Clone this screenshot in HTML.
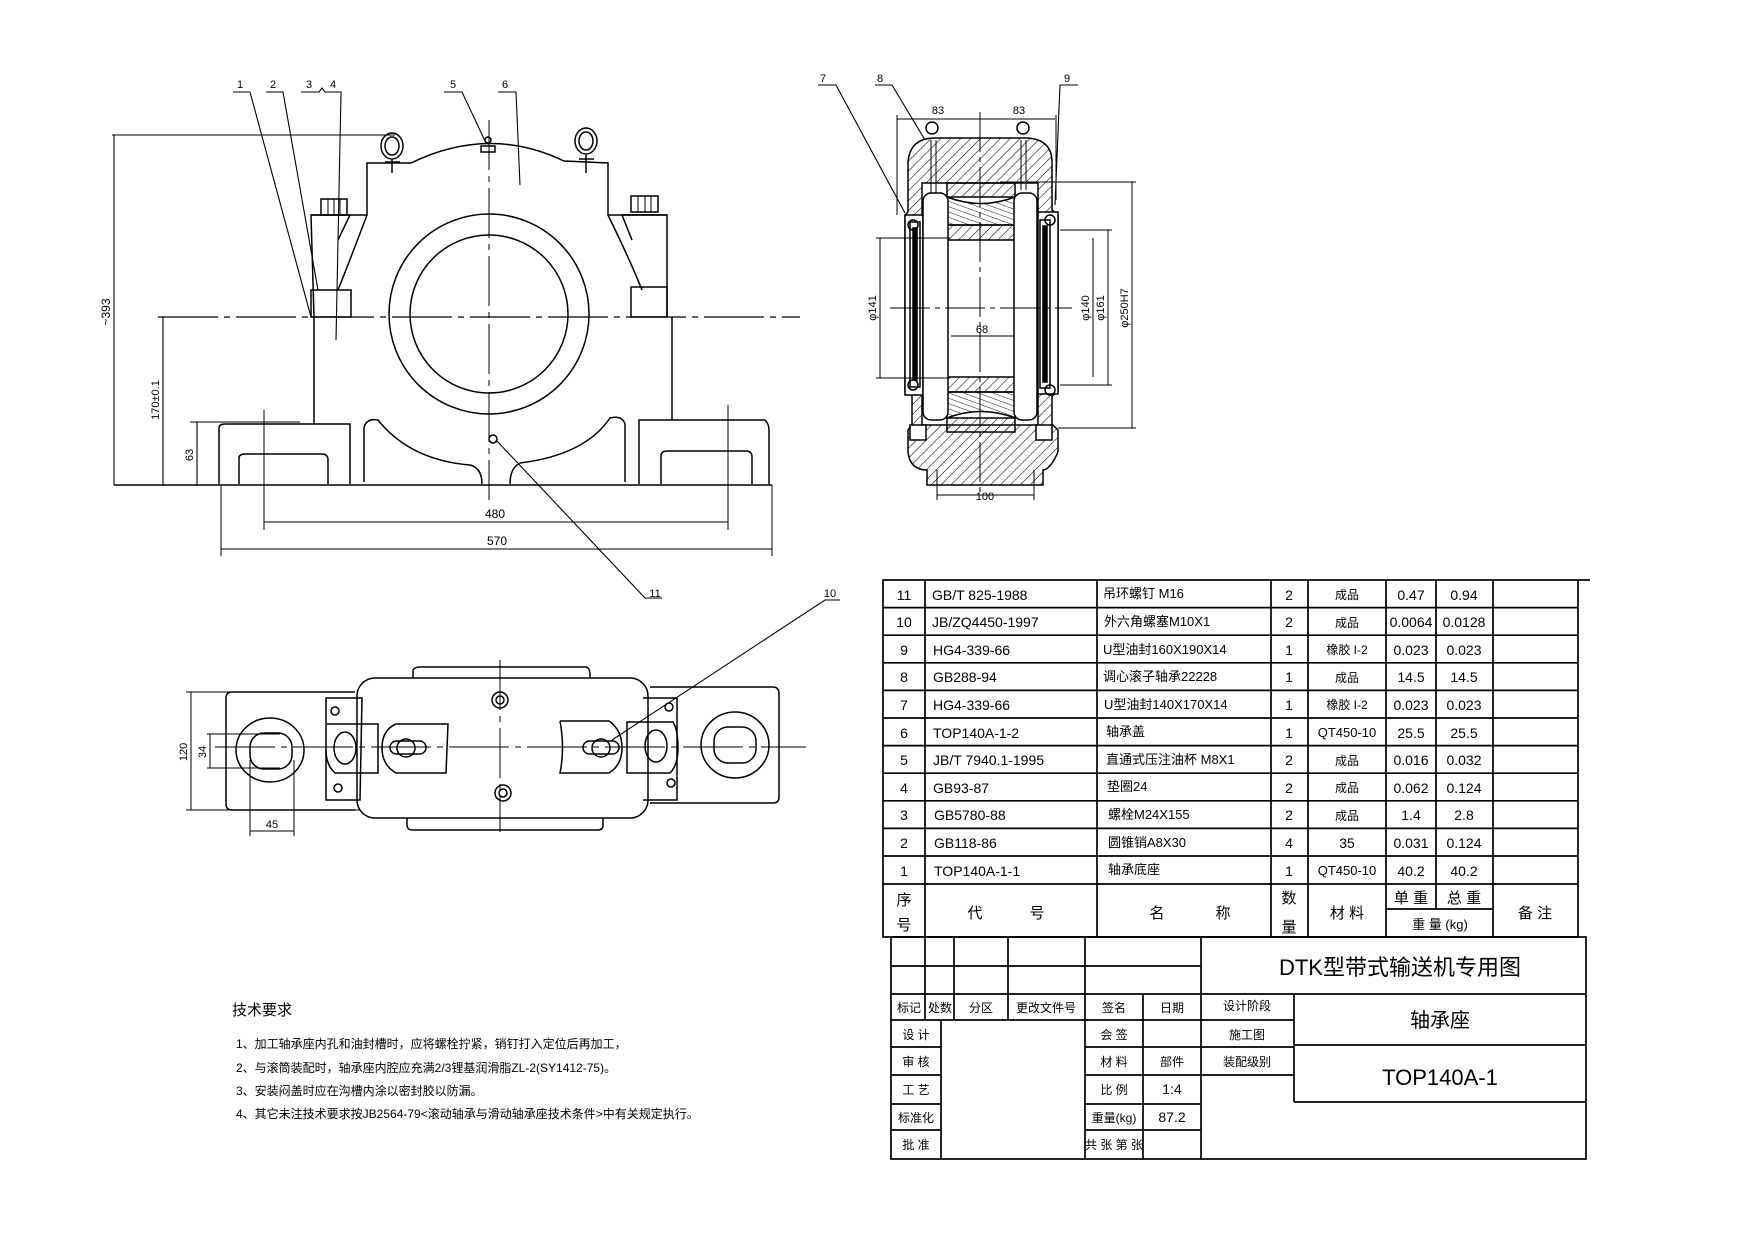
<!DOCTYPE html>
<html><head><meta charset="utf-8"><style>
html,body{margin:0;padding:0;background:#fff}
svg{display:block}
text{font-family:"Liberation Sans","Noto Sans CJK SC",sans-serif;fill:#000}
</style></head><body>
<svg width="1744" height="1248" viewBox="0 0 1744 1248" xmlns="http://www.w3.org/2000/svg">
<defs>
<pattern id="h" width="7" height="7" patternUnits="userSpaceOnUse" patternTransform="rotate(45)"><line x1="0" y1="0" x2="0" y2="7" stroke="#000" stroke-width="1.1"/></pattern>
<pattern id="r" width="5" height="5" patternUnits="userSpaceOnUse" patternTransform="rotate(-70)"><line x1="0" y1="0" x2="0" y2="5" stroke="#000" stroke-width="0.9"/></pattern>
</defs>
<g fill="none" stroke="#000" stroke-width="1.5">
<line x1="158" y1="317" x2="800" y2="317" stroke-width="1.2" stroke-dasharray="60,6,6,6"/>
<line x1="489" y1="120" x2="489" y2="500" stroke-width="1" stroke-dasharray="50,6,6,6"/>
<path d="M314,317 L311,215 L367,215 L367,163 L411,163 Q489,125 564,161 L608,163 L608,215 L667,215 L667,317"/>
<path d="M367,215 Q350,260 338,290 M608,215 Q630,260 642,290"/>
<path d="M311,215 L350,215 L338,240 M667,215 L622,215 L632,240"/>
<rect x="321" y="199" width="26" height="16"/>
<line x1="328" y1="199" x2="328" y2="215" stroke-width="1"/><line x1="334" y1="199" x2="334" y2="215" stroke-width="1"/><line x1="340" y1="199" x2="340" y2="215" stroke-width="1"/>
<rect x="631" y="196" width="27" height="16"/>
<line x1="638" y1="196" x2="638" y2="212" stroke-width="1"/><line x1="645" y1="196" x2="645" y2="212" stroke-width="1"/><line x1="651" y1="196" x2="651" y2="212" stroke-width="1"/>
<rect x="311" y="290" width="40" height="27"/>
<rect x="631" y="287" width="36" height="30"/>
<ellipse cx="392" cy="146" rx="11" ry="13"/><ellipse cx="392" cy="146" rx="7" ry="9"/>
<line x1="385" y1="162" x2="400" y2="162"/><line x1="392" y1="160" x2="392" y2="173"/>
<ellipse cx="586" cy="141" rx="11" ry="13"/><ellipse cx="586" cy="141" rx="7" ry="9"/>
<line x1="579" y1="159" x2="594" y2="159"/><line x1="586" y1="155" x2="586" y2="173"/>
<rect x="481" y="146" width="14" height="6"/><circle cx="488" cy="140" r="3"/>
<circle cx="489" cy="314" r="100"/>
<circle cx="489" cy="314" r="79"/>
<line x1="314" y1="317" x2="314" y2="424"/><line x1="672" y1="317" x2="672" y2="420"/>
<path d="M219,484 L219,428 Q219,424 225,424 L350,424 L350,484"/>
<path d="M239,484 L239,458 Q239,454 245,454 L322,454 Q328,454 328,460 L328,484"/>
<path d="M639,484 L639,420 L765,420 Q769,424 769,430 L769,484"/>
<path d="M661,484 L661,456 Q661,451 667,451 L746,451 Q752,451 752,457 L752,484"/>
<path d="M364,482 L364,428 Q366,418 378,420 Q410,460 470,465 Q482,468 482,484"/>
<path d="M625,482 L625,424 Q622,415 610,418 Q585,455 520,463 Q510,468 510,484"/>
<line x1="114" y1="485" x2="772" y2="485"/>
<line x1="190" y1="422" x2="300" y2="422" stroke-width="1"/>
<line x1="672" y1="420" x2="760" y2="420" stroke-width="1"/>
<circle cx="493" cy="439" r="4"/>
<line x1="264" y1="410" x2="264" y2="530" stroke-width="1"/><line x1="728" y1="405" x2="728" y2="530" stroke-width="1"/>
<line x1="114" y1="135" x2="114" y2="485" stroke-width="1.1"/><line x1="112" y1="135" x2="395" y2="135" stroke-width="1"/>
<line x1="163" y1="317" x2="163" y2="485" stroke-width="1.1"/>
<line x1="197" y1="422" x2="197" y2="485" stroke-width="1.1"/>
<line x1="221" y1="485" x2="221" y2="556" stroke-width="1"/><line x1="772" y1="485" x2="772" y2="556" stroke-width="1"/>
<line x1="264" y1="522" x2="728" y2="522" stroke-width="1.1"/>
<line x1="221" y1="549" x2="772" y2="549" stroke-width="1.1"/>
<g stroke-width="1.1">
<polyline points="233,92 250,92 311,317"/>
<polyline points="266,92 283,92 318,290"/>
<polyline points="301,92 319,92 322,88 325,92 341,92 336,340"/>
<polyline points="444,92 462,92 486,143"/>
<polyline points="498,92 516,92 520,185"/>
<polyline points="496,440 645,598 662,598"/>
<polyline points="612,740 825,600 840,600"/>
</g>
<path fill="url(#h)" fill-rule="evenodd" d="M908,212 L908,162 Q910,138 935,138 L1028,138 Q1052,140 1052,162 L1052,210 L1058,215 L1058,392 L1052,396 L1052,424 L1058,430 L1058,452 Q1050,470 1043,470 L1043,485 L927,485 L927,470 Q910,470 908,452 L908,430 L912,424 L912,396 L905,392 L905,215 Z M922,183 L1038,183 L1038,425 L922,425 Z"/>
<rect x="905" y="215" width="18" height="180" fill="#fff"/>
<rect x="1038" y="212" width="20" height="182" fill="#fff"/>
<rect x="910" y="222" width="10" height="165"/><rect x="913" y="228" width="4" height="152" fill="#000"/>
<rect x="1040" y="220" width="10" height="168"/><rect x="1043" y="226" width="4" height="156" fill="#000"/>
<circle cx="913" cy="225" r="5"/><circle cx="913" cy="385" r="5"/>
<circle cx="1050" cy="220" r="5"/><circle cx="1050" cy="390" r="5"/>
<rect x="947" y="183" width="68" height="14" fill="url(#h)"/>
<path d="M947,197 Q981,210 1015,197 L1015,225 L947,225 Z" fill="url(#r)"/>
<rect x="947" y="225" width="68" height="15" fill="url(#h)"/>
<rect x="947" y="377" width="68" height="15" fill="url(#h)"/>
<path d="M947,392 L1015,392 L1015,418 Q981,405 947,418 Z" fill="url(#r)"/>
<rect x="947" y="418" width="68" height="14" fill="url(#h)"/>
<rect x="923" y="193" width="25" height="227" rx="8" fill="#fff"/>
<rect x="1014" y="193" width="23" height="227" rx="8" fill="#fff"/>
<line x1="931" y1="140" x2="931" y2="193" stroke-width="1"/><line x1="936" y1="140" x2="936" y2="193" stroke-width="1"/>
<line x1="1021" y1="140" x2="1021" y2="190" stroke-width="1"/><line x1="1026" y1="140" x2="1026" y2="190" stroke-width="1"/>
<circle cx="932" cy="128" r="6" fill="#fff"/><circle cx="1023" cy="128" r="6" fill="#fff"/>
<rect x="910" y="425" width="16" height="15" fill="#fff"/><rect x="1036" y="425" width="16" height="15" fill="#fff"/>
<line x1="980" y1="112" x2="980" y2="495" stroke-width="1" stroke-dasharray="40,5,5,5"/>
<line x1="890" y1="308" x2="1072" y2="308" stroke-width="1" stroke-dasharray="40,5,5,5"/>
<line x1="897" y1="119" x2="1055" y2="119" stroke-width="1"/>
<line x1="897" y1="115" x2="897" y2="215" stroke-width="1"/><line x1="1056" y1="115" x2="1056" y2="200" stroke-width="1"/>
<line x1="937" y1="495" x2="1034" y2="495" stroke-width="1"/>
<line x1="937" y1="470" x2="937" y2="500" stroke-width="1"/><line x1="1034" y1="470" x2="1034" y2="500" stroke-width="1"/>
<line x1="951" y1="336" x2="1013" y2="336" stroke-width="1"/>
<line x1="880" y1="238" x2="880" y2="378" stroke-width="1"/>
<line x1="876" y1="238" x2="950" y2="238" stroke-width="1"/><line x1="876" y1="378" x2="950" y2="378" stroke-width="1"/>
<line x1="1093" y1="238" x2="1093" y2="377" stroke-width="1"/>
<line x1="1108" y1="230" x2="1108" y2="385" stroke-width="1"/>
<line x1="1132" y1="182" x2="1132" y2="428" stroke-width="1"/>
<line x1="1060" y1="230" x2="1112" y2="230" stroke-width="1"/><line x1="1060" y1="385" x2="1112" y2="385" stroke-width="1"/>
<line x1="1000" y1="182" x2="1136" y2="182" stroke-width="1"/><line x1="1058" y1="428" x2="1136" y2="428" stroke-width="1"/>
<g stroke-width="1.1">
<polyline points="818,85 836,85 905,213"/>
<polyline points="875,85 892,85 925,140"/>
<polyline points="1078,85 1060,85 1055,205"/>
</g>
<path d="M413,678 L413,670 Q415,667 420,667 L585,667 Q590,667 590,675 L590,678"/>
<rect x="357" y="678" width="291" height="140" rx="18"/>
<path d="M407,818 L407,826 Q408,830 412,830 L598,830 Q603,830 603,825 L603,818"/>
<path d="M355,692 L232,692 Q226,692 226,698 L226,804 Q226,810 232,810 L355,810"/>
<path d="M650,687 L773,687 Q779,687 779,694 L779,797 Q779,803 773,803 L650,803"/>
<ellipse cx="270" cy="750" rx="34" ry="32"/><rect x="250" y="733" width="42" height="36" rx="14"/>
<ellipse cx="735" cy="745" rx="34" ry="33"/><rect x="714" y="727" width="42" height="36" rx="14"/>
<path d="M326,698 L362,698 L360,800 L326,800 Z" />
<path d="M327,724 L378,724 L378,773 L335,773 Q326,765 326,750"/>
<ellipse cx="345" cy="748" rx="11" ry="16"/>
<path d="M643,698 L677,698 L677,800 L643,800"/>
<path d="M627,722 L673,722 Q678,730 678,748 Q678,765 670,773 L627,773 Z"/>
<ellipse cx="656" cy="746" rx="11" ry="16"/>
<path d="M396,724 L448,724 L446,773 L396,773 Q382,765 382,748 Q382,730 396,724"/>
<path d="M560,721 L609,721 Q622,730 622,748 Q622,765 609,773 L560,773 Q565,748 560,721"/>
<rect x="390" y="741" width="36" height="13" rx="6.5"/><rect x="583" y="741" width="36" height="13" rx="6.5"/>
<circle cx="406" cy="748" r="9"/><circle cx="601" cy="748" r="9"/>
<circle cx="500" cy="700" r="8"/><circle cx="500" cy="700" r="4"/>
<circle cx="503" cy="793" r="8"/><circle cx="503" cy="793" r="4"/>
<circle cx="335" cy="711" r="4"/><circle cx="338" cy="788" r="4"/>
<circle cx="669" cy="707" r="4"/><circle cx="671" cy="783" r="4"/>
<line x1="215" y1="747" x2="806" y2="747" stroke-width="1" stroke-dasharray="60,6,6,6"/>
<line x1="500" y1="660" x2="500" y2="832" stroke-width="1" stroke-dasharray="50,6,6,6"/>
<line x1="191" y1="692" x2="191" y2="810" stroke-width="1"/>
<line x1="186" y1="692" x2="230" y2="692" stroke-width="1"/><line x1="186" y1="810" x2="360" y2="810" stroke-width="1"/>
<line x1="210" y1="734" x2="210" y2="768" stroke-width="1"/>
<line x1="207" y1="734" x2="280" y2="734" stroke-width="1"/><line x1="207" y1="768" x2="280" y2="768" stroke-width="1"/>
<line x1="250" y1="831" x2="294" y2="831" stroke-width="1"/>
<line x1="250" y1="760" x2="250" y2="836" stroke-width="1"/><line x1="294" y1="760" x2="294" y2="836" stroke-width="1"/>
<g stroke-width="1.7">
<rect x="883" y="580" width="695" height="357"/>
<line x1="883" y1="607.6" x2="1578" y2="607.6"/><line x1="883" y1="635.2" x2="1578" y2="635.2"/>
<line x1="883" y1="662.8" x2="1578" y2="662.8"/><line x1="883" y1="690.4" x2="1578" y2="690.4"/>
<line x1="883" y1="718" x2="1578" y2="718"/><line x1="883" y1="745.6" x2="1578" y2="745.6"/>
<line x1="883" y1="773.2" x2="1578" y2="773.2"/><line x1="883" y1="800.8" x2="1578" y2="800.8"/>
<line x1="883" y1="828.4" x2="1578" y2="828.4"/><line x1="883" y1="856" x2="1578" y2="856"/>
<line x1="883" y1="884" x2="1578" y2="884"/>
<line x1="925" y1="580" x2="925" y2="937"/><line x1="1097" y1="580" x2="1097" y2="937"/>
<line x1="1271" y1="580" x2="1271" y2="937"/><line x1="1308" y1="580" x2="1308" y2="937"/>
<line x1="1386" y1="580" x2="1386" y2="937"/><line x1="1436" y1="580" x2="1436" y2="909"/>
<line x1="1493" y1="580" x2="1493" y2="937"/>
<line x1="1386" y1="909" x2="1493" y2="909"/>
<line x1="1578" y1="580" x2="1590" y2="580"/>
<rect x="891" y="937" width="695" height="222"/>
<line x1="891" y1="966" x2="1201" y2="966"/><line x1="891" y1="994" x2="1586" y2="994"/>
<line x1="891" y1="1020" x2="1294" y2="1020"/>
<line x1="1085" y1="1047" x2="1294" y2="1047"/><line x1="1085" y1="1075" x2="1294" y2="1075"/>
<line x1="1085" y1="1104" x2="1201" y2="1104"/><line x1="1085" y1="1130" x2="1201" y2="1130"/>
<line x1="891" y1="1047" x2="941" y2="1047"/><line x1="891" y1="1075" x2="941" y2="1075"/>
<line x1="891" y1="1104" x2="941" y2="1104"/><line x1="891" y1="1130" x2="941" y2="1130"/>
<line x1="1294" y1="1045" x2="1586" y2="1045"/><line x1="1294" y1="1102" x2="1586" y2="1102"/>
<line x1="925" y1="937" x2="925" y2="1020"/><line x1="954" y1="937" x2="954" y2="1020"/>
<line x1="1008" y1="937" x2="1008" y2="1020"/>
<line x1="941" y1="1020" x2="941" y2="1159"/>
<line x1="1085" y1="937" x2="1085" y2="1159"/><line x1="1143" y1="994" x2="1143" y2="1159"/>
<line x1="1201" y1="937" x2="1201" y2="1159"/><line x1="1294" y1="994" x2="1294" y2="1102"/>
</g>
</g>
<g font-size="11" text-anchor="middle">
<text x="240" y="88">1</text><text x="273" y="88">2</text><text x="309" y="88">3</text><text x="333" y="88">4</text>
<text x="453" y="88">5</text><text x="505" y="88">6</text>
<text x="655" y="597">11</text><text x="830" y="597">10</text>
<text x="823" y="82">7</text><text x="880" y="82">8</text><text x="1067" y="82">9</text>
<text x="938" y="114">83</text><text x="1019" y="114">83</text>
<text x="982" y="333">68</text><text x="985" y="500">100</text>
<text x="495" y="518" font-size="12">480</text><text x="497" y="545" font-size="12">570</text>
<text transform="translate(110,312) rotate(-90)" font-size="12">~393</text>
<text transform="translate(159,400) rotate(-90)" font-size="11">170±0.1</text>
<text transform="translate(193,455) rotate(-90)" font-size="11">63</text>
<text transform="translate(876,308) rotate(-90)" font-size="11">φ141</text>
<text transform="translate(1089,308) rotate(-90)" font-size="11">φ140</text>
<text transform="translate(1104,308) rotate(-90)" font-size="11">φ161</text>
<text transform="translate(1128,308) rotate(-90)" font-size="11">φ250H7</text>
<text transform="translate(187,752) rotate(-90)" font-size="11">120</text>
<text transform="translate(206,752) rotate(-90)" font-size="11">34</text>
<text x="272" y="828" font-size="11">45</text>
</g>
<g font-size="12">
<text x="232" y="1015" font-size="15">技术要求</text>
<text x="236" y="1048">1、加工轴承座内孔和油封槽时，应将螺栓拧紧，销钉打入定位后再加工，</text>
<text x="236" y="1072">2、与滚筒装配时，轴承座内腔应充满2/3锂基润滑脂ZL-2(SY1412-75)。</text>
<text x="236" y="1095">3、安装闷盖时应在沟槽内涂以密封胶以防漏。</text>
<text x="236" y="1118">4、其它未注技术要求按JB2564-79&lt;滚动轴承与滑动轴承座技术条件&gt;中有关规定执行。</text>
</g>
<g font-size="14">
<g text-anchor="middle">
<text x="904" y="600">11</text><text x="904" y="627">10</text><text x="904" y="655">9</text><text x="904" y="682">8</text>
<text x="904" y="710">7</text><text x="904" y="738">6</text><text x="904" y="765">5</text><text x="904" y="793">4</text>
<text x="904" y="820">3</text><text x="904" y="848">2</text><text x="904" y="876">1</text>
<text x="1289" y="600">2</text><text x="1289" y="627">2</text><text x="1289" y="655">1</text><text x="1289" y="682">1</text>
<text x="1289" y="710">1</text><text x="1289" y="738">1</text><text x="1289" y="765">2</text><text x="1289" y="793">2</text>
<text x="1289" y="820">2</text><text x="1289" y="848">4</text><text x="1289" y="876">1</text>
<g font-size="12"><text x="1347" y="599">成品</text><text x="1347" y="627">成品</text><text x="1347" y="654">橡胶 I-2</text><text x="1347" y="682">成品</text>
<text x="1347" y="709">橡胶 I-2</text><text x="1347" y="737" font-size="13">QT450-10</text><text x="1347" y="765">成品</text><text x="1347" y="792">成品</text>
<text x="1347" y="820">成品</text><text x="1347" y="848" font-size="14">35</text><text x="1347" y="875" font-size="13">QT450-10</text></g>
<text x="1411" y="600">0.47</text><text x="1411" y="627">0.0064</text><text x="1411" y="655">0.023</text><text x="1411" y="682">14.5</text>
<text x="1411" y="710">0.023</text><text x="1411" y="738">25.5</text><text x="1411" y="765">0.016</text><text x="1411" y="793">0.062</text>
<text x="1411" y="820">1.4</text><text x="1411" y="848">0.031</text><text x="1411" y="876">40.2</text>
<text x="1464" y="600">0.94</text><text x="1464" y="627">0.0128</text><text x="1464" y="655">0.023</text><text x="1464" y="682">14.5</text>
<text x="1464" y="710">0.023</text><text x="1464" y="738">25.5</text><text x="1464" y="765">0.032</text><text x="1464" y="793">0.124</text>
<text x="1464" y="820">2.8</text><text x="1464" y="848">0.124</text><text x="1464" y="876">40.2</text>
</g>
<text x="932" y="600">GB/T 825-1988</text><text x="932" y="627">JB/ZQ4450-1997</text><text x="933" y="655">HG4-339-66</text>
<text x="933" y="682">GB288-94</text><text x="933" y="710">HG4-339-66</text><text x="933" y="738">TOP140A-1-2</text>
<text x="933" y="765">JB/T 7940.1-1995</text><text x="933" y="793">GB93-87</text><text x="934" y="820">GB5780-88</text>
<text x="934" y="848">GB118-86</text><text x="934" y="876">TOP140A-1-1</text>
<g font-size="13">
<text x="1103" y="598">吊环螺钉 M16</text><text x="1104" y="626">外六角螺塞M10X1</text><text x="1103" y="654">U型油封160X190X14</text>
<text x="1103" y="681">调心滚子轴承22228</text><text x="1104" y="709">U型油封140X170X14</text><text x="1106" y="736">轴承盖</text>
<text x="1106" y="764">直通式压注油杯 M8X1</text><text x="1107" y="791">垫圈24</text><text x="1108" y="819">螺栓M24X155</text>
<text x="1108" y="847">圆锥销A8X30</text><text x="1108" y="874">轴承底座</text>
</g>
</g>
<g font-size="15" text-anchor="middle">
<text x="904" y="905">序</text><text x="904" y="930">号</text>
<text x="975" y="918">代</text><text x="1037" y="918">号</text>
<text x="1157" y="918">名</text><text x="1223" y="918">称</text>
<text x="1289" y="903">数</text><text x="1289" y="932">量</text>
<text x="1347" y="918">材 料</text>
<text x="1411" y="903">单 重</text><text x="1464" y="903">总 重</text>
<text x="1440" y="929" font-size="13">重 量 (kg)</text>
<text x="1535" y="918">备 注</text>
</g>
<g font-size="12" text-anchor="middle">
<text x="1400" y="975" font-size="22">DTK型带式输送机专用图</text>
<text x="1440" y="1027" font-size="20">轴承座</text>
<text x="1440" y="1085" font-size="22" fill="#222">TOP140A-1</text>
<text x="909" y="1012">标记</text><text x="940" y="1012">处数</text><text x="981" y="1012">分区</text>
<text x="1046" y="1012">更改文件号</text><text x="1114" y="1012">签名</text><text x="1172" y="1012">日期</text>
<text x="1247" y="1010">设计阶段</text>
<text x="916" y="1039">设 计</text><text x="916" y="1066">审 核</text><text x="916" y="1094">工 艺</text>
<text x="916" y="1122">标准化</text><text x="916" y="1149">批 准</text>
<text x="1114" y="1039">会 签</text><text x="1114" y="1066">材 料</text><text x="1172" y="1066">部件</text>
<text x="1247" y="1039">施工图</text><text x="1247" y="1066">装配级别</text>
<text x="1114" y="1094">比 例</text><text x="1172" y="1094" font-size="14">1:4</text>
<text x="1114" y="1122">重量(kg)</text><text x="1172" y="1122" font-size="14">87.2</text>
<text x="1114" y="1149">共  张 第  张</text>
</g>
</svg>
</body></html>
